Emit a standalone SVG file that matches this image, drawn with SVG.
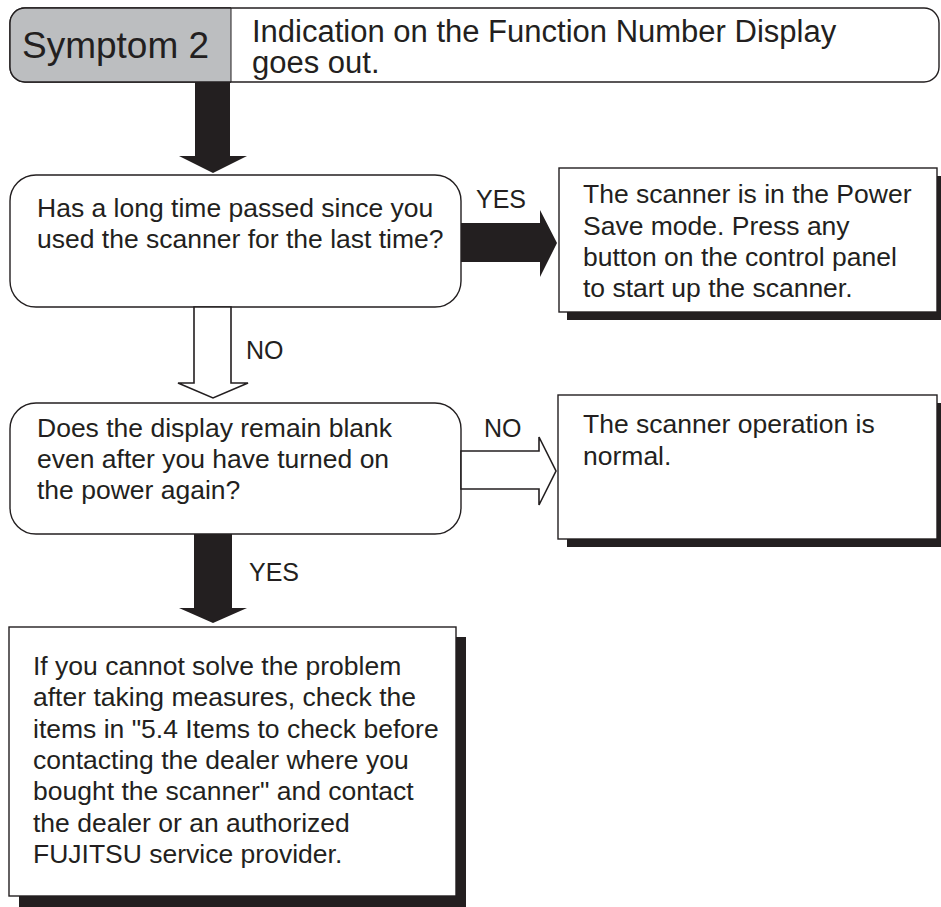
<svg xmlns="http://www.w3.org/2000/svg" width="941" height="907" viewBox="0 0 941 907">
<style>
  text { font-family: "Liberation Sans", Arial, sans-serif; fill: #231f20; }
  .body { font-size: 26.5px; }
  .lbl { font-size: 25px; }
  .box { fill: #ffffff; stroke: #231f20; stroke-width: 1.4; }
  .shadow { fill: #231f20; }
  .solid { fill: #231f20; stroke: none; }
  .hollow { fill: #ffffff; stroke: #231f20; stroke-width: 1.6; stroke-linejoin: miter; }
</style>
<defs>
  <clipPath id="hclip"><rect x="0" y="0" width="231" height="100"/></clipPath>
</defs>
<rect width="941" height="907" fill="#ffffff"/>

<g id="header">
  <rect x="10" y="8" width="929" height="74" rx="15" ry="15" fill="#ffffff" stroke="#231f20" stroke-width="1.4"/>
  <rect x="10" y="8" width="929" height="74" rx="15" ry="15" fill="#bcbec0" stroke="#231f20" stroke-width="1.4" clip-path="url(#hclip)"/>
  <line x1="231" y1="8" x2="231" y2="82" stroke="#231f20" stroke-width="1"/>
  <text x="22" y="58" font-size="37">Symptom 2</text>
  <text font-size="31" x="252" y="42">Indication on the Function Number Display<tspan x="252" y="73">goes out.</tspan></text>
</g>

<g id="q1">
  <rect class="box" x="10" y="175" width="451" height="132" rx="26" ry="26"/>
  <text class="body" x="37" y="217">Has a long time passed since you</text>
  <text class="body" x="37" y="248">used the scanner for the last time?</text>
</g>

<g id="a1">
  <rect class="shadow" x="567" y="176" width="380" height="144"/>
  <rect class="box" x="559" y="168" width="378" height="144"/>
  <text class="body" x="583" y="203">The scanner is in the Power</text>
  <text class="body" x="583" y="235">Save mode. Press any</text>
  <text class="body" x="583" y="266">button on the control panel</text>
  <text class="body" x="583" y="297">to start up the scanner.</text>
</g>

<g id="q2">
  <rect class="box" x="10" y="403" width="451" height="131" rx="26" ry="26"/>
  <text class="body" x="37" y="437">Does the display remain blank</text>
  <text class="body" x="37" y="468">even after you have turned on</text>
  <text class="body" x="37" y="499">the power again?</text>
</g>

<g id="a2">
  <rect class="shadow" x="567" y="403" width="380" height="144"/>
  <rect class="box" x="558" y="395" width="379" height="144"/>
  <text class="body" x="583" y="433">The scanner operation is</text>
  <text class="body" x="583" y="465">normal.</text>
</g>

<g id="a3">
  <rect class="shadow" x="19" y="637" width="447" height="280"/>
  <rect class="box" x="9" y="627" width="447" height="269"/>
  <text class="body" x="33" y="675">If you cannot solve the problem</text>
  <text class="body" x="33" y="706">after taking measures, check the</text>
  <text class="body" x="33" y="738">items in "5.4 Items to check before</text>
  <text class="body" x="33" y="769">contacting the dealer where you</text>
  <text class="body" x="33" y="800">bought the scanner" and contact</text>
  <text class="body" x="33" y="832">the dealer or an authorized</text>
  <text class="body" x="33" y="863">FUJITSU service provider.</text>
</g>

<g id="connectors">
  <polygon class="solid" points="195,82 230,82 230,156 247,156 213,173 179,156 195,156"/>
  <polygon class="solid" points="461,223 540,223 540,210 557,243 540,277 540,262 461,262"/>
  <text class="lbl" x="476" y="208">YES</text>
  <polygon class="hollow" points="194,307 194,383 178,383 213,398 248,383 231,383 231,307"/>
  <text class="lbl" x="246" y="359">NO</text>
  <polygon class="hollow" points="461,451 539,451 539,437 556,471 539,505 539,489 461,489"/>
  <text class="lbl" x="484" y="437">NO</text>
  <polygon class="solid" points="194,534 232,534 232,608 247,608 213,623 179,608 194,608"/>
  <text class="lbl" x="249" y="581">YES</text>
</g>
</svg>
